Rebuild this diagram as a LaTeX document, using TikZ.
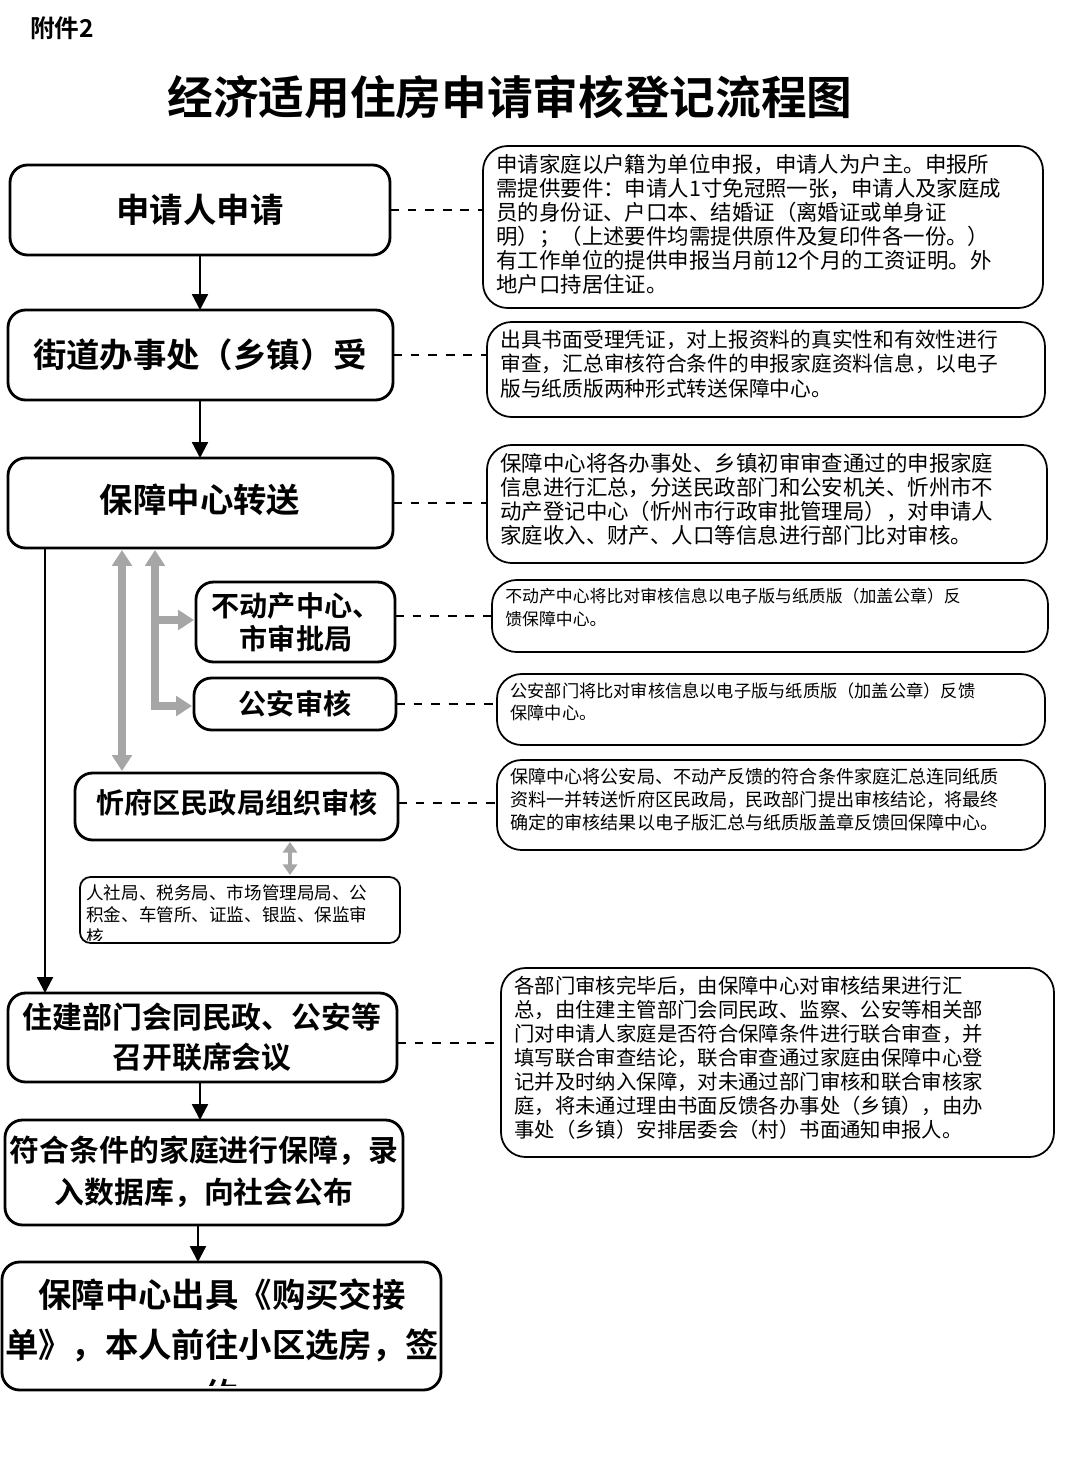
\documentclass[tikz,border=0pt]{standalone}
\usepackage{fontspec}
\setmainfont{Noto Sans CJK SC}
\newfontfamily\cjkb{Noto Sans CJK SC Bold}
\usetikzlibrary{arrows.meta}
\tikzset{
 bx/.style={draw=black,line width=1.6pt,rounded corners=10pt},
 rb/.style={draw=black,line width=1pt,rounded corners=14pt},
 dl/.style={dashed,line width=1pt,dash pattern=on 5pt off 5pt},
 ar/.style={line width=1.3pt,-{Triangle[length=9pt,width=9pt]}},
 ga/.style={line width=4pt,gray!70,{Triangle[length=9pt,width=11pt]}-{Triangle[length=9pt,width=11pt]}},
 gs/.style={line width=4pt,gray!70,-{Triangle[length=9pt,width=11pt]}},
 bt/.style={font=\cjkb\fontsize{19}{24}\selectfont,align=center},
 rt/.style={font=\fontsize{12.2}{13.7}\selectfont,align=left,anchor=north west,inner sep=0pt},
}
\begin{document}
\begin{tikzpicture}[x=0.02cm,y=-0.02cm]
\useasboundingbox (0,0) rectangle (1080,1463);
\fill[white] (0,0) rectangle (1080,1463);
\node[font=\cjkb\fontsize{14}{16}\selectfont,anchor=west] (fj) at (24,28) {附件2};
\node[font=\cjkb\fontsize{26}{30}\selectfont] (tt) at (510,97) {经济适用住房申请审核登记流程图};
% left boxes
\draw[bx] (10,165) rectangle (390,255); \node[bt] (b1) at (200,210) {申请人申请};
\coordinate (b1s) at (200,255); \coordinate (b1e) at (390,210);
\draw[bx] (8,310) rectangle (393,400); \node[bt] (b2) at (200,355) {街道办事处（乡镇）受};
\coordinate (b2n) at (200,310); \coordinate (b2s) at (200,400); \coordinate (b2e) at (393,355);
\draw[bx] (8,458) rectangle (393,548); \node[bt] (b3) at (200,500) {保障中心转送};
\coordinate (b3n) at (200,458); \coordinate (b3e) at (393,503);
\draw[bx] (196,582) rectangle (395,662); \node[bt,font=\cjkb\fontsize{16}{19}\selectfont] (b4) at (296,622) {不动产中心、\\市审批局};
\draw[bx] (194,678) rectangle (396,730); \node[bt,font=\cjkb\fontsize{16}{19}\selectfont] (b5) at (295,704) {公安审核};
\draw[bx] (75,773) rectangle (398,840); \node[bt,font=\cjkb\fontsize{16}{19}\selectfont] (b6) at (237,803) {忻府区民政局组织审核};
\draw[line width=1pt,rounded corners=6pt] (80,877) rectangle (400,943);
\begin{scope}\clip (80,877) rectangle (400,940);
\node[rt,font=\fontsize{10}{12.6}\selectfont] (b7) at (86,884) {人社局、税务局、市场管理局局、公\\积金、车管所、证监、银监、保监审\\核};
\end{scope}
\draw[bx] (8,993) rectangle (397,1082); \node[bt,font=\cjkb\fontsize{17}{23}\selectfont] (b8) at (202,1037) {住建部门会同民政、公安等\\召开联席会议};
\draw[bx] (5,1120) rectangle (403,1225); \node[bt,font=\cjkb\fontsize{17}{24}\selectfont] (b9) at (204,1172) {符合条件的家庭进行保障，录\\入数据库，向社会公布};
\draw[bx] (2,1262) rectangle (441,1390);
\begin{scope}\clip (2,1262) rectangle (441,1385);
\node[bt,anchor=north,font=\cjkb\fontsize{19}{28.5}\selectfont] (b10) at (222,1272) {保障中心出具《购买交接\\单》，本人前往小区选房，签\\约};
\end{scope}
% right boxes
\newcommand{\rbox}[6]{\draw[rb] (#1,#2) rectangle (#3,#4);
 \begin{scope}\clip (#1,#2) rectangle (#3,#4-5);
 \node[rt,#5] at (#1+13,#2+8) {#6};\end{scope}}
\rbox{483}{146}{1043}{308}{}{申请家庭以户籍为单位申报，申请人为户主。申报所\\需提供要件：申请人1寸免冠照一张，申请人及家庭成\\员的身份证、户口本、结婚证（离婚证或单身证\\明）；（上述要件均需提供原件及复印件各一份。）\\有工作单位的提供申报当月前12个月的工资证明。外\\地户口持居住证。}
\rbox{487}{322}{1045}{417}{font=\fontsize{11.8}{13.7}\selectfont}{出具书面受理凭证，对上报资料的真实性和有效性进行\\审查，汇总审核符合条件的申报家庭资料信息，以电子\\版与纸质版两种形式转送保障中心。}
\rbox{487}{445}{1047}{563}{}{保障中心将各办事处、乡镇初审审查通过的申报家庭\\信息进行汇总，分送民政部门和公安机关、忻州市不\\动产登记中心（忻州市行政审批管理局），对申请人\\家庭收入、财产、人口等信息进行部门比对审核。}
\rbox{492}{580}{1048}{652}{font=\fontsize{9.6}{13}\selectfont}{不动产中心将比对审核信息以电子版与纸质版（加盖公章）反\\馈保障中心。}
\rbox{497}{674}{1045}{745}{font=\fontsize{9.8}{13}\selectfont}{公安部门将比对审核信息以电子版与纸质版（加盖公章）反馈\\保障中心。}
\rbox{497}{760}{1045}{850}{font=\fontsize{10.3}{13}\selectfont}{保障中心将公安局、不动产反馈的符合条件家庭汇总连同纸质\\资料一并转送忻府区民政局，民政部门提出审核结论，将最终\\确定的审核结果以电子版汇总与纸质版盖章反馈回保障中心。}
\rbox{501}{968}{1054}{1157}{font=\fontsize{11.6}{13.6}\selectfont}{各部门审核完毕后，由保障中心对审核结果进行汇\\总，由住建主管部门会同民政、监察、公安等相关部\\门对申请人家庭是否符合保障条件进行联合审查，并\\填写联合审查结论，联合审查通过家庭由保障中心登\\记并及时纳入保障，对未通过部门审核和联合审核家\\庭，将未通过理由书面反馈各办事处（乡镇），由办\\事处（乡镇）安排居委会（村）书面通知申报人。}
% dashed connectors
\coordinate (r1) at (483,210); \coordinate (r2) at (487,355); \coordinate (r3) at (487,503);
\coordinate (r4) at (492,616); \coordinate (r5) at (497,704); \coordinate (r6) at (497,803); \coordinate (r7) at (501,1043);
\draw[dl] (b1e) -- (r1); \draw[dl] (b2e) -- (r2); \draw[dl] (b3e) -- (r3);
\draw[dl] (395,616) -- (r4); \draw[dl] (396,704) -- (r5); \draw[dl] (398,803) -- (r6); \draw[dl] (397,1043) -- (r7);
% arrows
\draw[ar] (b1s) -- (b2n);
\draw[ar] (b2s) -- (b3n);
\draw[ar] (45,548) -- (45,993);
\draw[ar] (200,1082) -- (200,1120);
\draw[ar] (198,1225) -- (198,1262);
\draw[ga] (122,550) -- (122,771);
\draw[gs] (155,620) -- (194,620);
\draw[line width=4pt,gray!70,{Triangle[length=9pt,width=11pt]}-] (155,550) -- (155,706) -- (180,706);
\draw[gs] (170,706) -- (192,706);
\draw[line width=2.5pt,gray!70,{Triangle[length=6pt,width=8pt]}-{Triangle[length=6pt,width=8pt]}] (290,842) -- (290,875);
\end{tikzpicture}
\end{document}
